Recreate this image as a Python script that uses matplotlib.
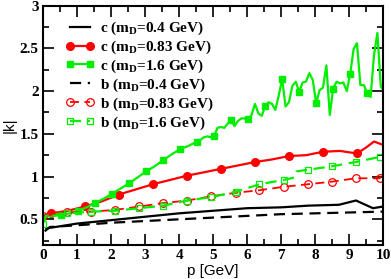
import numpy as np
import matplotlib
matplotlib.use('Agg')
import matplotlib.pyplot as plt

# c quark, m_D = 0.4 GeV (black solid)
c04_x = [0.1, 0.2, 1.0, 2.0, 3.0, 4.0, 5.0, 6.0, 7.0, 7.8, 8.7, 9.2, 9.7, 10.0]
c04_y = [0.39, 0.40, 0.45, 0.49, 0.53, 0.57, 0.60, 0.63, 0.64, 0.66, 0.67, 0.72, 0.63, 0.65]

# c quark, m_D = 0.83 GeV (red solid, filled circles)
c083_x = [0.0, 0.23, 0.73, 1.23, 1.73, 2.23, 2.73, 3.23, 3.73, 4.23, 4.73, 5.23,
          5.73, 6.23, 6.73, 7.23, 7.73, 8.23, 8.73, 9.23, 9.5, 9.73, 10.0]
c083_y = [0.54, 0.57, 0.60, 0.65, 0.71, 0.79, 0.85, 0.91, 0.96, 1.01, 1.05, 1.09,
          1.13, 1.17, 1.20, 1.24, 1.25, 1.29, 1.30, 1.27, 1.34, 1.41, 1.37]
c083_mark = [0.23, 1.23, 2.23, 3.23, 4.23, 5.23, 6.23, 7.23, 8.23, 9.23]

# c quark, m_D = 1.6 GeV (green solid, filled squares)
c16_x = [0.03, 0.28, 0.53, 0.78, 1.03, 1.28, 1.53, 1.78, 2.03, 2.28, 2.53, 2.78,
         3.03, 3.28, 3.53, 3.78, 4.03, 4.28, 4.53, 4.63, 4.73, 4.83, 4.93,
         5.03, 5.13, 5.23, 5.33, 5.43, 5.53, 5.63, 5.73, 5.83, 5.93,
         6.03, 6.13, 6.23, 6.33, 6.43, 6.53, 6.63, 6.73, 6.83, 6.93,
         7.03, 7.13, 7.23, 7.33, 7.43, 7.53, 7.63, 7.73, 7.83, 7.93,
         8.03, 8.13, 8.23, 8.33, 8.43, 8.53, 8.63, 8.73, 8.83, 8.93,
         9.03, 9.13, 9.23, 9.33, 9.43, 9.53, 9.63, 9.73, 9.83, 9.93, 10.0]
c16_y = [0.53, 0.54, 0.55, 0.57, 0.60, 0.64, 0.69, 0.74, 0.80, 0.86, 0.92, 0.99,
         1.06, 1.12, 1.19, 1.26, 1.32, 1.36, 1.41, 1.43, 1.46, 1.47, 1.46,
         1.48, 1.57, 1.58, 1.57, 1.62, 1.66, 1.59, 1.65, 1.68, 1.68,
         1.67, 1.72, 1.85, 1.74, 1.71, 1.82, 1.87, 1.85, 1.78, 1.95,
         2.14, 1.82, 1.87, 2.06, 2.11, 1.99, 2.10, 2.11, 2.21, 2.13,
         1.86, 2.01, 2.04, 2.30, 1.72, 2.03, 2.11, 2.09, 2.10, 2.00,
         2.20, 2.49, 2.56, 2.07, 2.07, 1.98, 1.93, 2.42, 2.68, 2.05, 2.02]
c16_mark = [0.53, 1.03, 1.53, 2.03, 2.53, 3.03, 3.53, 4.03, 4.53, 5.03, 5.53,
            6.03, 6.53, 7.03, 7.53, 8.03, 8.53, 9.03, 9.53]

# b quark, m_D = 0.4 GeV (black dashed)
b04_x = [0.05, 0.2, 1.0, 2.0, 3.0, 4.0, 5.0, 6.0, 7.0, 8.0, 9.0, 10.0]
b04_y = [0.36, 0.41, 0.43, 0.46, 0.48, 0.50, 0.52, 0.54, 0.56, 0.57, 0.58, 0.59]

# b quark, m_D = 0.83 GeV (red dashed, open circles)
b083_x = [0.0, 0.71, 1.42, 2.12, 2.83, 3.54, 4.24, 4.95, 5.66, 6.36, 7.07,
          7.78, 8.49, 9.19, 9.9, 10.0]
b083_y = [0.54, 0.58, 0.59, 0.61, 0.65, 0.69, 0.72, 0.77, 0.81, 0.84, 0.88,
          0.91, 0.94, 0.98, 0.98, 1.04]
b083_mark = [0.0, 0.71, 1.42, 2.12, 2.83, 3.54, 4.24, 4.95, 5.66, 6.36, 7.07,
             7.78, 8.49, 9.19, 9.9]

# b quark, m_D = 1.6 GeV (green dashed, open squares)
b16_x = [0.0, 0.08, 0.71, 1.42, 2.12, 2.83, 3.54, 4.24, 4.95, 5.66, 6.36,
         7.07, 7.4, 7.45, 7.78, 8.49, 9.19, 9.9, 10.0]
b16_y = [0.45, 0.54, 0.57, 0.59, 0.60, 0.63, 0.66, 0.72, 0.76, 0.82, 0.91,
         0.96, 0.99, 1.06, 1.08, 1.12, 1.17, 1.23, 1.25]
b16_mark = [0.0, 0.71, 1.42, 2.12, 2.83, 3.54, 4.24, 4.95, 5.66, 6.36,
            7.07, 7.78, 8.49, 9.19, 9.9]

labels = [r'c (m$_{\rm D}$=0.4 GeV)', r'c (m$_{\rm D}$=0.83 GeV)',
          r'c (m$_{\rm D}$=1.6 GeV)', r'b (m$_{\rm D}$=0.4 GeV)',
          r'b (m$_{\rm D}$=0.83 GeV)', r'b (m$_{\rm D}$=1.6 GeV)']

plt.rcParams['mathtext.fontset'] = 'custom'
plt.rcParams['mathtext.rm'] = 'Liberation Serif:bold'
plt.rcParams['mathtext.it'] = 'Liberation Serif:bold'
plt.rcParams['mathtext.bf'] = 'Liberation Serif:bold'


def marks(x, m):
    '''indices of the points that carry a marker'''
    return [i for i, v in enumerate(x) if v in m]


fig = plt.figure(figsize=(3.91, 2.79), dpi=100)
ax = fig.add_axes([0.110, 0.122, 0.870, 0.858])

ax.plot(c04_x, c04_y, color='black', lw=1.6, label=labels[0])
ax.plot(c083_x, c083_y, color='red', lw=1.6, marker='o', ms=5.5,
        markevery=marks(c083_x, c083_mark), label=labels[1])
ax.plot(c16_x, c16_y, color='#00ee00', lw=1.6, marker='s', ms=4.8,
        markevery=marks(c16_x, c16_mark), label=labels[2])
ax.plot(b04_x, b04_y, color='black', lw=1.6, ls=(0, (5, 3)), label=labels[3])
ax.plot(b083_x, b083_y, color='red', lw=1.3, ls=(0, (5, 3)), marker='o', ms=5.5,
        mfc='none', mew=0.9, markevery=marks(b083_x, b083_mark), label=labels[4])
ax.plot(b16_x, b16_y, color='#00ee00', lw=1.6, ls=(0, (5, 3)), marker='s', ms=5,
        mfc='none', mew=0.9, markevery=marks(b16_x, b16_mark), label=labels[5])

ax.set_xlim(0, 10)
ax.set_ylim(0.2, 3)
ax.set_xticks(range(0, 11))
ax.set_xticks(np.arange(0.5, 10, 1.0), minor=True)
ax.set_yticks([0.5, 1, 1.5, 2, 2.5, 3])
ax.set_yticklabels(['0.5', '1', '1.5', '2', '2.5', '3'])
ax.set_yticks([0.25, 0.75, 1.25, 1.75, 2.25, 2.75], minor=True)
ax.tick_params(which='both', direction='in', top=True, right=True, width=1.2,
               labelsize=11)
ax.tick_params(which='major', length=8, pad=3)
ax.tick_params(which='minor', length=4)
for lab in ax.get_xticklabels() + ax.get_yticklabels():
    lab.set_family('Liberation Serif')
    lab.set_fontweight('bold')
for s in ax.spines.values():
    s.set_linewidth(1.5)

ax.set_xlabel('p [GeV]', family='Liberation Sans', fontsize=11, labelpad=1)
ax.set_ylabel('|k|', family='Liberation Sans', fontsize=11, labelpad=2)

leg = ax.legend(loc='upper left', frameon=False, numpoints=2,
                handlelength=1.9, handletextpad=0.35, labelspacing=0.1,
                borderaxespad=0.3, bbox_to_anchor=(0.035, 0.985),
                prop={'family': 'Liberation Serif', 'weight': 'bold', 'size': 11})

plt.savefig('out.png', dpi=100)
plt.close()
